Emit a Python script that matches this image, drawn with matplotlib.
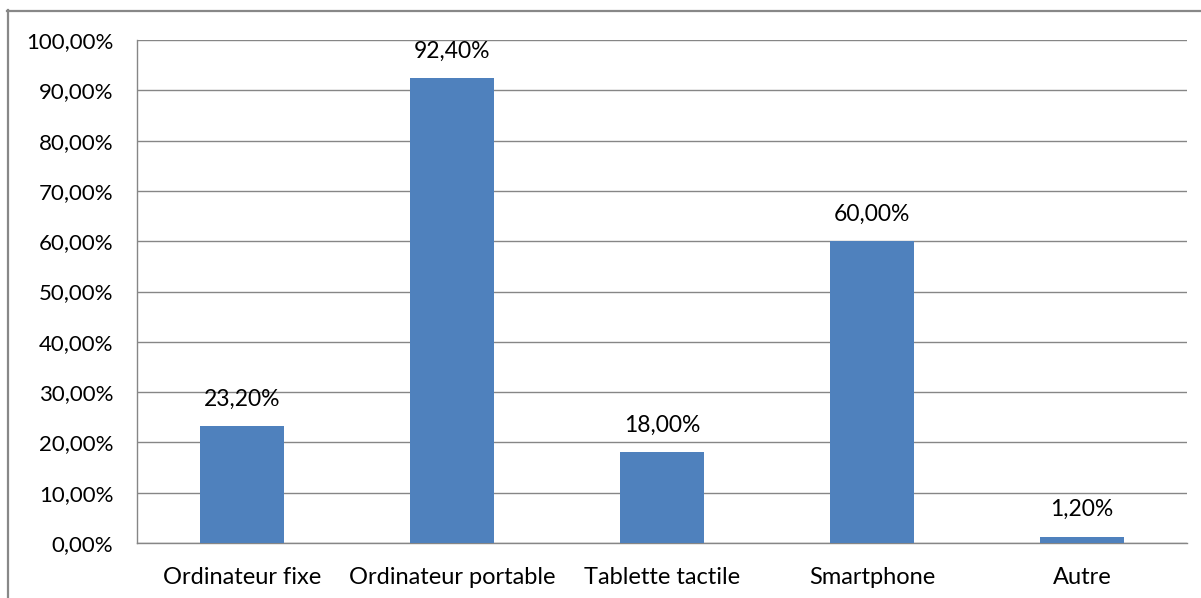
import matplotlib
matplotlib.use("Agg")
import matplotlib.pyplot as plt
from matplotlib.lines import Line2D
from matplotlib.ticker import FuncFormatter

categories = ["Ordinateur fixe", "Ordinateur portable", "Tablette tactile", "Smartphone", "Autre"]
values = [23.20, 92.40, 18.00, 60.00, 1.20]
y_ticks = [0, 10, 20, 30, 40, 50, 60, 70, 80, 90, 100]

W, H = 1201, 598
fig = plt.figure(figsize=(W / 100, H / 100), dpi=100)
plt.rcParams["font.family"] = ["Lato", "DejaVu Sans"]

def fx(px):
    return px / W

def fy(py):
    return 1 - py / H

def pct(v):
    return f"{v:.2f}".replace(".", ",") + "%"

left, right, top, bottom = 137, 1187, 40, 543
ax = fig.add_axes([fx(left), fy(bottom), fx(right) - fx(left), fy(top) - fy(bottom)])

x = range(len(categories))
ax.bar(x, values, width=0.4, color="#4F81BD", zorder=3)
ax.set_xlim(-0.5, len(categories) - 0.5)
ax.set_ylim(0, 100)
ax.set_yticks(y_ticks)
ax.yaxis.set_major_formatter(FuncFormatter(lambda v, p: pct(v)))
ax.set_xticks(list(x))
ax.set_xticklabels(categories)
ax.grid(axis="y", color="#868686", linewidth=1.0, zorder=0)
ax.tick_params(axis="both", length=0, colors="#000000")
ax.tick_params(axis="y", pad=17, labelsize=16)
ax.tick_params(axis="x", pad=17, labelsize=17)

for s in ["top", "right"]:
    ax.spines[s].set_visible(False)
for s in ["left", "bottom"]:
    ax.spines[s].set_color("#868686")
    ax.spines[s].set_linewidth(1.0)

for i, v in enumerate(values):
    ax.annotate(pct(v), (i, v), xytext=(0, 12),
                textcoords="offset points", ha="center", va="bottom", fontsize=16.5)

# outer frame of the chart area
fig.add_artist(Line2D([fx(7), 1.0], [fy(10.5), fy(10.5)], color="#888888", linewidth=1.6))
fig.add_artist(Line2D([fx(7.5), fx(7.5)], [fy(10), 0.0], color="#888888", linewidth=1.6))

fig.savefig("out.png", dpi=100)
